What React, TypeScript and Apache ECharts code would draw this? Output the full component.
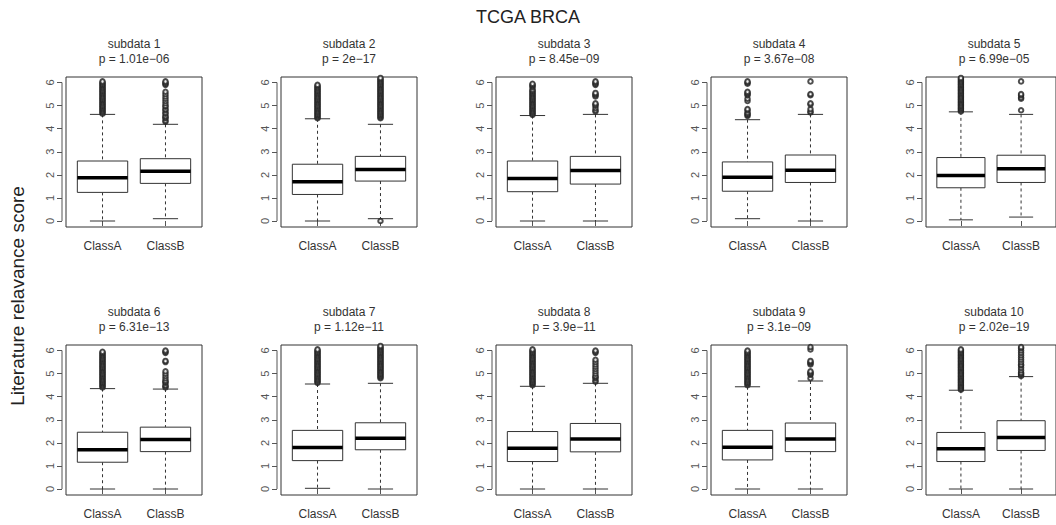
import React, { useEffect, useRef } from "react";
import * as echarts from "echarts";

const FONT = "Liberation Sans, Arial, Helvetica, sans-serif";

const mainTitle = "TCGA BRCA";
const yAxisTitle = "Literature relavance score";
const categories = ["ClassA", "ClassB"];
const panelNames = [
  "subdata 1", "subdata 2", "subdata 3", "subdata 4", "subdata 5",
  "subdata 6", "subdata 7", "subdata 8", "subdata 9", "subdata 10",
];
const pValues = [
  "1.01e−06", "2e−17", "8.45e−09", "3.67e−08", "6.99e−05",
  "6.31e−13", "1.12e−11", "3.9e−11", "3.1e−09", "2.02e−19",
];
const yTicks = [0, 1, 2, 3, 4, 5, 6];

// [lower whisker, Q1, median, Q3, upper whisker]
const classAStats = [
  [0, 1.24, 1.87, 2.6, 4.62],
  [0, 1.15, 1.7, 2.46, 4.43],
  [0, 1.27, 1.84, 2.6, 4.57],
  [0.1, 1.29, 1.9, 2.56, 4.39],
  [0.05, 1.44, 1.97, 2.75, 4.73],
  [0, 1.16, 1.7, 2.46, 4.35],
  [0.03, 1.23, 1.8, 2.54, 4.55],
  [0, 1.19, 1.77, 2.49, 4.45],
  [0, 1.26, 1.81, 2.54, 4.43],
  [0, 1.19, 1.74, 2.45, 4.28],
];
const classBStats = [
  [0.1, 1.63, 2.16, 2.7, 4.19],
  [0.1, 1.73, 2.23, 2.8, 4.19],
  [0, 1.6, 2.19, 2.8, 4.62],
  [0, 1.67, 2.2, 2.86, 4.62],
  [0.17, 1.67, 2.26, 2.85, 4.62],
  [0, 1.62, 2.14, 2.68, 4.33],
  [0, 1.7, 2.2, 2.87, 4.58],
  [0, 1.61, 2.17, 2.84, 4.58],
  [0, 1.62, 2.17, 2.86, 4.68],
  [0, 1.67, 2.23, 2.96, 4.87],
];

const classAOutliers = [
  [4.65, 4.7, 4.75, 4.8, 4.85, 4.9, 4.95, 5, 5.05, 5.1, 5.15, 5.2, 5.25, 5.3, 5.35, 5.4, 5.45, 5.5, 5.55, 5.6, 5.65, 5.7, 5.75, 5.8, 5.85, 5.9, 5.95, 6, 6.05],
  [4.45, 4.5, 4.55, 4.6, 4.65, 4.7, 4.75, 4.8, 4.85, 4.9, 4.95, 5, 5.05, 5.1, 5.15, 5.2, 5.25, 5.3, 5.35, 5.4, 5.45, 5.5, 5.55, 5.6, 5.65, 5.7, 5.75, 5.8, 5.85, 5.9],
  [4.6, 4.65, 4.7, 4.75, 4.8, 4.85, 4.9, 4.95, 5, 5.05, 5.1, 5.15, 5.2, 5.25, 5.3, 5.35, 5.4, 5.45, 5.5, 5.55, 5.6, 5.65, 5.7, 5.8, 5.85, 5.9, 5.95],
  [4.55, 4.6, 4.65, 4.7, 4.8, 4.85, 5.2, 5.3, 5.45, 5.5, 5.55, 5.6, 5.95, 6, 6.05],
  [4.75, 4.8, 4.85, 4.9, 4.95, 5, 5.05, 5.1, 5.15, 5.2, 5.25, 5.3, 5.35, 5.4, 5.45, 5.5, 5.55, 5.6, 5.65, 5.7, 5.75, 5.8, 5.85, 5.9, 5.95, 6, 6.05, 6.1, 6.15, 6.2],
  [4.4, 4.45, 4.5, 4.55, 4.6, 4.65, 4.7, 4.75, 4.8, 4.85, 4.9, 4.95, 5, 5.05, 5.1, 5.15, 5.2, 5.25, 5.3, 5.35, 5.4, 5.45, 5.5, 5.55, 5.6, 5.65, 5.7, 5.75, 5.8, 5.85, 5.9, 5.95],
  [4.6, 4.65, 4.7, 4.75, 4.8, 4.85, 4.9, 4.95, 5, 5.05, 5.1, 5.15, 5.2, 5.25, 5.3, 5.35, 5.4, 5.45, 5.5, 5.55, 5.6, 5.65, 5.7, 5.75, 5.8, 5.85, 5.9, 5.95, 6, 6.05],
  [4.5, 4.55, 4.6, 4.65, 4.7, 4.75, 4.8, 4.85, 4.9, 4.95, 5, 5.05, 5.1, 5.15, 5.2, 5.25, 5.3, 5.35, 5.4, 5.45, 5.5, 5.55, 5.6, 5.65, 5.7, 5.75, 5.8, 5.85, 5.9, 5.95, 6, 6.05],
  [4.5, 4.55, 4.6, 4.65, 4.7, 4.75, 4.8, 4.85, 4.9, 4.95, 5, 5.05, 5.1, 5.15, 5.2, 5.25, 5.3, 5.35, 5.4, 5.45, 5.5, 5.55, 5.6, 5.65, 5.7, 5.75, 5.8, 5.85, 5.9, 5.95, 6],
  [4.3, 4.35, 4.4, 4.45, 4.5, 4.55, 4.6, 4.65, 4.7, 4.75, 4.8, 4.85, 4.9, 4.95, 5, 5.05, 5.1, 5.15, 5.2, 5.25, 5.3, 5.35, 5.4, 5.45, 5.5, 5.55, 5.6, 5.65, 5.7, 5.75, 5.8, 5.85, 5.9, 5.95, 6, 6.05],
];
const classBOutliers = [
  [4.3, 4.35, 4.45, 4.5, 4.55, 4.65, 4.7, 4.8, 4.85, 4.95, 5, 5.1, 5.2, 5.3, 5.4, 5.5, 5.6, 5.9, 5.95, 6, 6.05],
  [0, 4.45, 4.5, 4.55, 4.6, 4.65, 4.7, 4.75, 4.8, 4.85, 4.9, 4.95, 5, 5.05, 5.1, 5.15, 5.2, 5.25, 5.3, 5.35, 5.4, 5.45, 5.5, 5.55, 5.6, 5.65, 5.7, 5.75, 5.8, 5.85, 5.9, 5.95, 6, 6.05, 6.1, 6.15, 6.2],
  [4.75, 4.8, 4.9, 5, 5.05, 5.1, 5.4, 5.45, 5.5, 5.55, 5.9, 5.95, 6, 6.05],
  [4.7, 4.75, 4.85, 5.05, 5.1, 5.45, 5.5, 6.05],
  [4.8, 5.3, 5.35, 5.45, 5.5, 6.05],
  [4.4, 4.45, 4.5, 4.6, 4.65, 4.7, 4.8, 4.9, 5, 5.1, 5.5, 5.55, 5.9, 5.95, 6],
  [4.8, 4.85, 4.9, 4.95, 5, 5.05, 5.1, 5.15, 5.2, 5.25, 5.3, 5.35, 5.4, 5.45, 5.5, 5.55, 5.6, 5.65, 5.7, 5.75, 5.8, 5.85, 5.9, 5.95, 6, 6.05, 6.1, 6.15, 6.2],
  [4.65, 4.7, 4.8, 4.85, 4.9, 5, 5.1, 5.2, 5.3, 5.4, 5.5, 5.6, 5.9, 5.95, 6],
  [4.8, 4.95, 5, 5.05, 5.1, 5.4, 5.45, 5.5, 5.55, 6.05, 6.15],
  [4.9, 4.95, 5, 5.05, 5.15, 5.25, 5.35, 5.4, 5.5, 5.6, 5.7, 5.8, 5.9, 6, 6.1, 6.15],
];

// layout (pixels)
const gridLefts = [66, 281, 496, 711, 926];
const gridTops = [77, 345];
const gridW = 136;
const gridH = 150;
const titleTops = [36, 304];

const LINE = "#333";
const TEXT = "#333";

function renderBox(params: any, api: any) {
  const x = api.value(0);
  const lo = api.value(1);
  const q1 = api.value(2);
  const md = api.value(3);
  const q3 = api.value(4);
  const hi = api.value(5);
  const half = api.size([0.8, 0])[0] / 2;
  const cx = api.coord([x, lo])[0];
  const yLo = api.coord([x, lo])[1];
  const yQ1 = api.coord([x, q1])[1];
  const yMd = api.coord([x, md])[1];
  const yQ3 = api.coord([x, q3])[1];
  const yHi = api.coord([x, hi])[1];
  const dash = { stroke: LINE, lineWidth: 1, lineDash: [3, 3] };
  const solid = { stroke: LINE, lineWidth: 1 };
  const children: any[] = [
    { type: "line", shape: { x1: cx, y1: yHi, x2: cx, y2: yQ3 }, style: dash },
    { type: "line", shape: { x1: cx, y1: yQ1, x2: cx, y2: yLo }, style: dash },
    { type: "line", shape: { x1: cx - half / 2, y1: yHi, x2: cx + half / 2, y2: yHi }, style: solid },
    { type: "line", shape: { x1: cx - half / 2, y1: yLo, x2: cx + half / 2, y2: yLo }, style: solid },
    { type: "rect", shape: { x: cx - half, y: yQ3, width: 2 * half, height: yQ1 - yQ3 }, style: { fill: "#fff", stroke: LINE, lineWidth: 1 } },
    { type: "line", shape: { x1: cx - half, y1: yMd, x2: cx + half, y2: yMd }, style: { stroke: "#000", lineWidth: 3.5 } },
  ];
  if (params.dataIndex === 0) {
    const ax = params.coordSys.x - 4;
    const yA = api.coord([x, yTicks[0]])[1];
    const yB = api.coord([x, yTicks[yTicks.length - 1]])[1];
    children.push({ type: "line", shape: { x1: ax, y1: yA, x2: ax, y2: yB }, style: { stroke: "#555", lineWidth: 1 } });
  }
  return { type: "group", children };
}

export default function App() {
  const ref = useRef<HTMLDivElement>(null);
  useEffect(() => {
    if (!ref.current) return;
    const chart = echarts.init(ref.current, null, { renderer: "svg" });
    const grids: any[] = [];
    const xAxes: any[] = [];
    const yAxes: any[] = [];
    const series: any[] = [];
    const titles: any[] = [
      {
        text: mainTitle,
        left: 528,
        top: 8,
        textAlign: "center",
        padding: 0,
        textStyle: { fontSize: 18, fontWeight: "normal", color: "#222", fontFamily: FONT },
      },
    ];
    const outlierStyle = { color: "#222", borderColor: "#222", borderWidth: 0.7 };
    for (let i = 0; i < 10; i++) {
      const row = Math.floor(i / 5);
      const col = i % 5;
      const left = gridLefts[col];
      const top = gridTops[row];
      grids.push({ left, top, width: gridW, height: gridH, show: true, borderColor: LINE, borderWidth: 1, backgroundColor: "transparent" });
      titles.push({
        text: `${panelNames[i]}\np = ${pValues[i]}`,
        left: left + gridW / 2,
        top: titleTops[row],
        textAlign: "center",
        padding: 0,
        textStyle: { fontSize: 12, lineHeight: 15, fontWeight: "normal", color: TEXT, fontFamily: FONT },
      });
      xAxes.push({
        gridIndex: i,
        type: "value",
        min: 0.42,
        max: 2.58,
        axisLine: { show: false },
        splitLine: { show: false },
        axisTick: { show: true, customValues: [1, 2], length: 5, lineStyle: { color: "#555" } },
        axisLabel: {
          customValues: [1, 2],
          formatter: (v: number) => categories[Math.round(v) - 1],
          margin: 13,
          fontSize: 12,
          color: TEXT,
          fontFamily: FONT,
        },
      });
      yAxes.push({
        gridIndex: i,
        type: "value",
        min: -0.26,
        max: 6.24,
        offset: 4,
        axisLine: { show: false },
        splitLine: { show: false },
        axisTick: { show: true, customValues: yTicks, length: 5, lineStyle: { color: "#555" } },
        axisLabel: {
          customValues: yTicks,
          rotate: 90,
          margin: 7,
          fontSize: 11,
          color: "#555",
          fontFamily: FONT,
        },
      });
      series.push({
        type: "custom",
        xAxisIndex: i,
        yAxisIndex: i,
        renderItem: renderBox,
        clip: false,
        data: [
          [1, ...classAStats[i]],
          [2, ...classBStats[i]],
        ],
        z: 2,
      });
      series.push({
        type: "scatter",
        xAxisIndex: i,
        yAxisIndex: i,
        symbol: "emptyCircle",
        symbolSize: 4.5,
        itemStyle: outlierStyle,
        data: classAOutliers[i].map((v) => [1, v]),
        z: 3,
      });
      series.push({
        type: "scatter",
        xAxisIndex: i,
        yAxisIndex: i,
        symbol: "emptyCircle",
        symbolSize: 4.5,
        itemStyle: outlierStyle,
        data: classBOutliers[i].map((v) => [2, v]),
        z: 3,
      });
    }
    chart.setOption({
      animation: false,
      backgroundColor: "#fff",
      textStyle: { fontFamily: FONT },
      title: titles,
      grid: grids,
      xAxis: xAxes,
      yAxis: yAxes,
      series,
      graphic: [
        {
          type: "text",
          x: 17,
          y: 296,
          rotation: Math.PI / 2,
          style: {
            text: yAxisTitle,
            fontSize: 19,
            fontFamily: FONT,
            fill: "#222",
            textAlign: "center",
            textVerticalAlign: "middle",
            align: "center",
            verticalAlign: "middle",
          },
        },
      ],
    });
    return () => chart.dispose();
  }, []);
  return (
    <div
      ref={ref}
      style={{ position: "fixed", left: 0, top: 0, width: 1056, height: 525, background: "#fff" }}
    />
  );
}
